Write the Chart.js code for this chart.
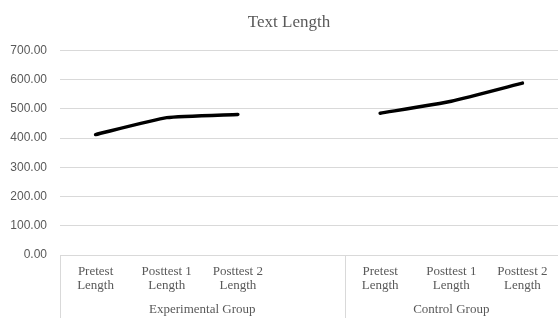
<!DOCTYPE html>
<html>
<head>
<meta charset="utf-8">
<script src="https://cdn.jsdelivr.net/npm/chart.js@4/dist/chart.umd.min.js"></script>
<style>
  html, body { margin: 0; padding: 0; background: #fff; }
  #wrap { width: 559px; height: 318px; }
</style>
</head>
<body>
<div id="wrap"><canvas id="chart"></canvas></div>
<script>
// categories (index 3 is the empty slot after the experimental group)
const categories = [
  ["Pretest", "Length"],
  ["Posttest 1", "Length"],
  ["Posttest 2", "Length"],
  "",
  ["Pretest", "Length"],
  ["Posttest 1", "Length"],
  ["Posttest 2", "Length"],
];
const groups = ["Experimental Group", "Control Group"];
// how many category slots each group takes
const groupSizes = [4, 3];
const textLength = [412, 470, 481, null, 485, 526, 588];
const yTicks = [0, 100, 200, 300, 400, 500, 600, 700];

const grey = "#595959";
const gridGrey = "#d9d9d9";

// vertical separator lines below the plot, between the groups
const groupLines = {
  id: "groupLines",
  afterDraw(chart) {
    const x = chart.scales.x;
    const ctx = chart.ctx;
    const step = x.getPixelForValue(1) - x.getPixelForValue(0);
    let pos = [x.left];
    let n = 0;
    for (let i = 0; i < groupSizes.length - 1; i++) {
      n += groupSizes[i];
      pos.push(x.getPixelForValue(n) - step / 2);
    }
    ctx.save();
    ctx.strokeStyle = gridGrey;
    ctx.lineWidth = 1;
    pos.forEach((p) => {
      p = Math.round(p) + 0.5;
      ctx.beginPath();
      ctx.moveTo(p, chart.chartArea.bottom);
      ctx.lineTo(p, chart.height);
      ctx.stroke();
    });
    ctx.restore();
  },
};

new Chart(document.getElementById("chart"), {
  type: "line",
  plugins: [groupLines],
  data: {
    labels: categories,
    datasets: [
      {
        data: textLength,
        borderColor: "#000000",
        borderWidth: 3.5,
        borderCapStyle: "round",
        borderJoinStyle: "round",
        pointRadius: 0,
        tension: 0.15,
        spanGaps: false,
      },
    ],
  },
  options: {
    responsive: true,
    maintainAspectRatio: false,
    animation: false,
    layout: { padding: { left: 20, right: 1, top: 0, bottom: 0 } },
    plugins: {
      legend: { display: false },
      tooltip: { enabled: false },
      title: {
        display: true,
        text: "Text Length",
        color: grey,
        font: { family: "Liberation Serif", size: 17, weight: "normal" },
        padding: { top: 12, bottom: 18 },
      },
    },
    scales: {
      x: {
        type: "category",
        offset: true,
        grid: { display: false, drawTicks: false, offset: true },
        border: { display: false },
        ticks: {
          color: grey,
          font: { family: "Liberation Serif", size: 13, lineHeight: 1.08 },
          maxRotation: 0,
          autoSkip: false,
          padding: 10,
        },
        afterFit: (s) => { s.height = 38; },
      },
      x2: {
        type: "linear",
        position: "bottom",
        min: 0,
        max: groupSizes[0] + groupSizes[1],
        grid: { display: false, drawTicks: false },
        border: { display: false },
        afterBuildTicks: (s) => {
          let start = 0;
          s.ticks = groupSizes.map((g) => {
            const t = { value: start + g / 2 };
            start += g;
            return t;
          });
        },
        ticks: {
          color: grey,
          font: { family: "Liberation Serif", size: 13, lineHeight: 1.08 },
          padding: 10,
          maxRotation: 0,
          callback: (v, i) => groups[i],
        },
        afterFit: (s) => { s.height = 25; },
      },
      y: {
        min: 0,
        max: 700,
        afterBuildTicks: (s) => { s.ticks = yTicks.map((v) => ({ value: v })); },
        grid: { color: gridGrey, drawTicks: false, lineWidth: 1 },
        border: { display: false },
        ticks: {
          color: grey,
          font: { family: "Liberation Sans", size: 12 },
          padding: 13,
          callback: (v) => v.toFixed(2),
        },
        afterFit: (s) => {
          s.width = 40;
          // let the labels run into the left padding
          s._computeLabelArea = () => undefined;
        },
      },
    },
  },
});
</script>
</body>
</html>
